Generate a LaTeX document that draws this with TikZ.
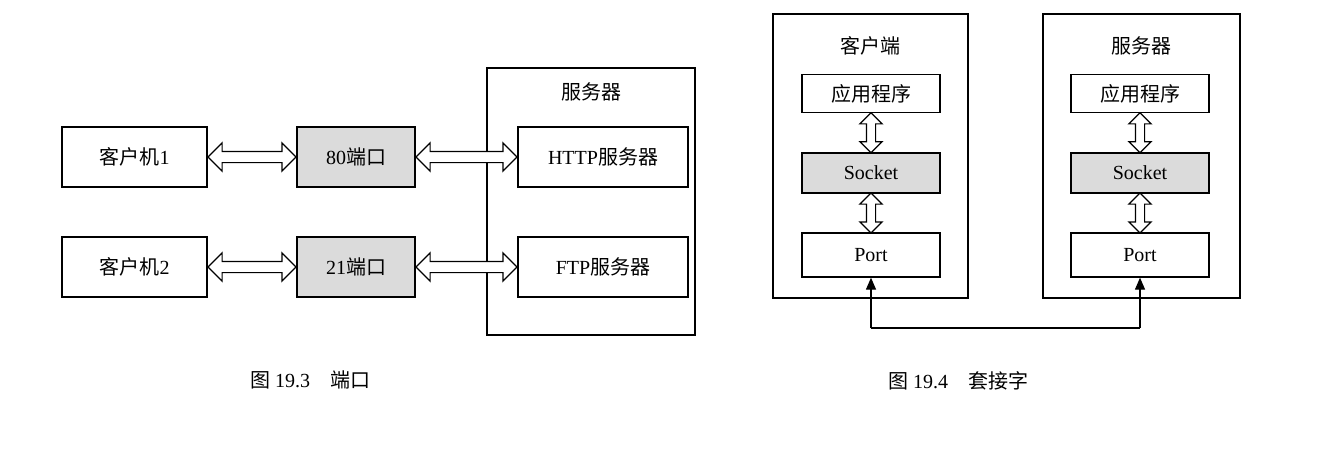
\documentclass[tikz,border=0pt]{standalone}
\usepackage{fontspec}
\setmainfont{Liberation Serif}
\newfontfamily\cjk{Noto Sans CJK SC}
\usetikzlibrary{shapes.arrows,arrows.meta}
\newcommand{\zh}[1]{{\cjk #1}}
\begin{document}
\begin{tikzpicture}[x=1pt,y=-1pt,
  box/.style={draw,line width=1.3pt,inner sep=0,font=\fontsize{20}{20}\selectfont},
  sh/.style={box,fill=gray!28},
  outer/.style={draw,line width=1.1pt},
  dar/.style={double arrow,draw,line width=1.2pt,fill=white,inner sep=0,minimum width=0,double arrow head extend=8.5,sloped},
  var/.style={double arrow,draw,line width=1.2pt,fill=white,inner sep=0,minimum width=0,double arrow head extend=6.5,sloped},
  lbl/.style={font=\fontsize{20}{20}\selectfont}]
\useasboundingbox (0,0) rectangle (1321,448);
% left figure
\draw[outer] (487,68) rectangle (695,335);
\node[lbl] (srv) at (591,92) {\zh{服务器}};
\node[box,minimum width=145,minimum height=60] (c1) at (134.5,157) {\zh{客户机}1};
\node[sh,minimum width=118,minimum height=60] (p80) at (356,157) {80\zh{端口}};
\node[box,minimum width=170,minimum height=60] (http) at (603,157) {HTTP\zh{服务器}};
\node[box,minimum width=145,minimum height=60] (c2) at (134.5,267) {\zh{客户机}2};
\node[sh,minimum width=118,minimum height=60] (p21) at (356,267) {21\zh{端口}};
\node[box,minimum width=170,minimum height=60] (ftp) at (603,267) {FTP\zh{服务器}};
\path (c1.east) -- (p80.west) node[midway,dar,minimum height=88] {\rule{0pt}{10pt}};
\path (p80.east) -- (http.west) node[midway,dar,minimum height=101] {\rule{0pt}{10pt}};
\path (c2.east) -- (p21.west) node[midway,dar,minimum height=88] {\rule{0pt}{10pt}};
\path (p21.east) -- (ftp.west) node[midway,dar,minimum height=101] {\rule{0pt}{10pt}};
\node[lbl] (cap1) at (310,380) {\zh{图} 19.3\quad \zh{端口}};
% right figure
\draw[outer] (773,14) rectangle (968,298);
\draw[outer] (1043,14) rectangle (1240,298);
\node[lbl] (kh) at (870,46) {\zh{客户端}};
\node[lbl] (fw) at (1141,46) {\zh{服务器}};
\foreach \n/\x in {a/871,b/1140}{
  \node[box,minimum width=138,minimum height=38] (app\n) at (\x,93.5) {\zh{应用程序}};
  \node[sh,minimum width=138,minimum height=40] (sock\n) at (\x,173) {Socket};
  \node[box,minimum width=138,minimum height=44] (port\n) at (\x,255) {Port};
  \path (app\n.south) -- (sock\n.north) node[midway,var,minimum height=40] {\rule{0pt}{8pt}};
  \path (sock\n.south) -- (port\n.north) node[midway,var,minimum height=40] {\rule{0pt}{8pt}};
}
\coordinate (ba) at (871,328);
\coordinate (bb) at (1140,328);
\draw[line width=1.3pt,-{Triangle[length=12pt,width=10pt]}] (ba) -- (porta.south);
\draw[line width=1.3pt,-{Triangle[length=12pt,width=10pt]}] (bb) -- (portb.south);
\draw[line width=1.3pt] (ba) -- (bb);
\node[lbl] (cap2) at (958,381) {\zh{图} 19.4\quad \zh{套接字}};
\end{tikzpicture}
\end{document}
